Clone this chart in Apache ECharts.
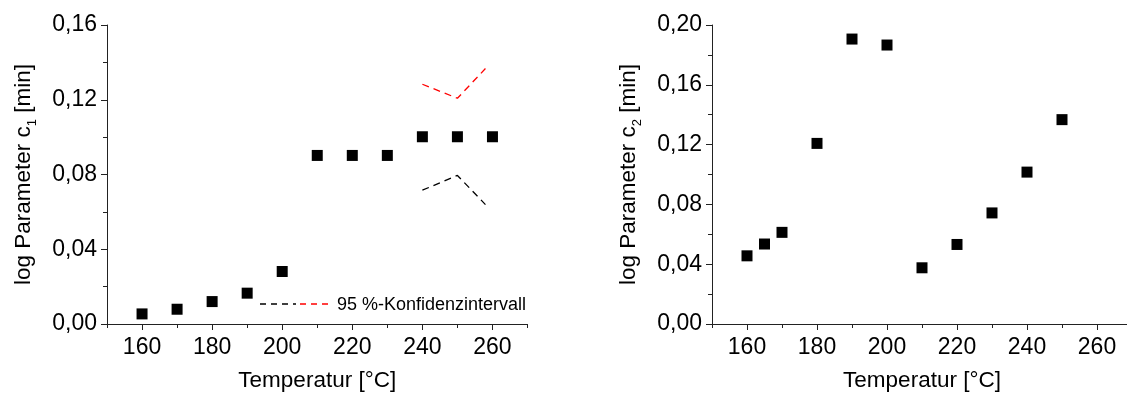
<!DOCTYPE html>
<html>
<head>
<meta charset="utf-8">
<script src="https://cdn.jsdelivr.net/npm/echarts@6/dist/echarts.min.js"></script>
<style>
html,body{margin:0;padding:0;background:#fff;}
#chart{width:1127px;height:395px;}
</style>
</head>
<body>
<div id="chart"></div>
<script>
// ---- data ----
const tempsC1 = [160, 170, 180, 190, 200, 210, 220, 230, 240, 250, 260];
const valuesC1 = [0.0054, 0.0079, 0.0120, 0.0165, 0.0281, 0.0902, 0.0902, 0.0902, 0.1002, 0.1002, 0.1002];
const tempsC2 = [160, 165, 170, 180, 190, 200, 210, 220, 230, 240, 250];
const valuesC2 = [0.0456, 0.0535, 0.0613, 0.1208, 0.1906, 0.1866, 0.0376, 0.0532, 0.0743, 0.1016, 0.1367];
const confTemps = [240, 250, 258];
const confUpper = [0.1283, 0.1208, 0.1367];
const confLower = [0.0716, 0.0795, 0.0639];
const xLabelTicks = [160, 180, 200, 220, 240, 260];
const xMinorTicks = [150, 170, 190, 210, 230, 250, 270];
const legendText = '95 %-Konfidenzintervall';
const xName = 'Temperatur [°C]';
const yNameC1 = 'log Parameter c{s|1} [min]';
const yNameC2 = 'log Parameter c{s|2} [min]';

const FONT = '"Liberation Sans", Arial, sans-serif';
const AX = '#222';
const pair = (xs, ys) => xs.map((x, i) => [x, ys[i]]);
const yFmt = v => v.toFixed(2).replace('.', ',');

function xAxes(gridIndex) {
  return [
    {
      type: 'value', gridIndex, min: 150, max: 270, position: 'bottom',
      name: xName, nameLocation: 'middle', nameGap: 45,
      nameTextStyle: { fontFamily: FONT, fontSize: 22.5, color: '#000' },
      axisLine: { show: true, lineStyle: { color: AX, width: 1 } },
      axisTick: { show: true, customValues: xLabelTicks, length: 6, lineStyle: { color: AX } },
      axisLabel: { show: true, customValues: xLabelTicks, margin: 12, fontFamily: FONT, fontSize: 23, color: '#000' },
      splitLine: { show: false }
    },
    {
      type: 'value', gridIndex, min: 150, max: 270, position: 'bottom',
      axisLine: { show: false },
      axisTick: { show: true, customValues: xMinorTicks, length: 4, lineStyle: { color: AX } },
      axisLabel: { show: false },
      splitLine: { show: false }
    }
  ];
}
function yAxis(gridIndex, max, name) {
  return {
    type: 'value', gridIndex, min: 0, max, interval: 0.04,
    name, nameLocation: 'middle', nameGap: 72,
    nameTextStyle: { fontFamily: FONT, fontSize: 22.5, color: '#000',
      rich: { s: { fontFamily: FONT, fontSize: 13, color: '#000', verticalAlign: 'bottom', padding: [0, 0, -4, 0] } } },
    axisLine: { show: true, lineStyle: { color: AX, width: 1 } },
    axisTick: { show: true, length: 6, lineStyle: { color: AX } },
    minorTick: { show: true, splitNumber: 2, length: 4, lineStyle: { color: AX } },
    axisLabel: { margin: 10, formatter: yFmt, fontFamily: FONT, fontSize: 23, color: '#000' },
    splitLine: { show: false }
  };
}

const chart = echarts.init(document.getElementById('chart'), null, { renderer: 'canvas' });
chart.setOption({
  animation: false,
  backgroundColor: '#fff',
  grid: [
    { left: 107, top: 25, width: 420.5, bottom: 71, containLabel: false, outerBoundsMode: 'none' },
    { left: 712, top: 25, width: 420, bottom: 71, containLabel: false, outerBoundsMode: 'none' }
  ],
  xAxis: [...xAxes(0), ...xAxes(1)],
  yAxis: [yAxis(0, 0.16, yNameC1), yAxis(1, 0.20, yNameC2)],
  series: [
    { type: 'scatter', xAxisIndex: 0, yAxisIndex: 0, symbol: 'rect', symbolSize: 11,
      itemStyle: { color: '#000', opacity: 1 }, data: pair(tempsC1, valuesC1) },
    { type: 'line', xAxisIndex: 0, yAxisIndex: 0, symbol: 'none', data: pair(confTemps, confUpper),
      lineStyle: { color: '#ff0000', width: 1.3, type: [7, 5] } },
    { type: 'line', xAxisIndex: 0, yAxisIndex: 0, symbol: 'none', data: pair(confTemps, confLower),
      lineStyle: { color: '#000', width: 1.3, type: [7, 5] } },
    { type: 'scatter', xAxisIndex: 2, yAxisIndex: 1, symbol: 'rect', symbolSize: 11,
      itemStyle: { color: '#000', opacity: 1 }, data: pair(tempsC2, valuesC2) }
  ],
  graphic: [
    { type: 'line', shape: { x1: 260, y1: 304, x2: 296, y2: 304 },
      style: { stroke: '#000', lineWidth: 1.3, lineDash: [6, 5] } },
    { type: 'line', shape: { x1: 300, y1: 304, x2: 333, y2: 304 },
      style: { stroke: '#ff0000', lineWidth: 1.3, lineDash: [6, 5] } },
    { type: 'text', x: 337, y: 305,
      style: { text: legendText, fontFamily: FONT, fontSize: 18, fill: '#000', verticalAlign: 'middle' } }
  ]
});
</script>
</body>
</html>
